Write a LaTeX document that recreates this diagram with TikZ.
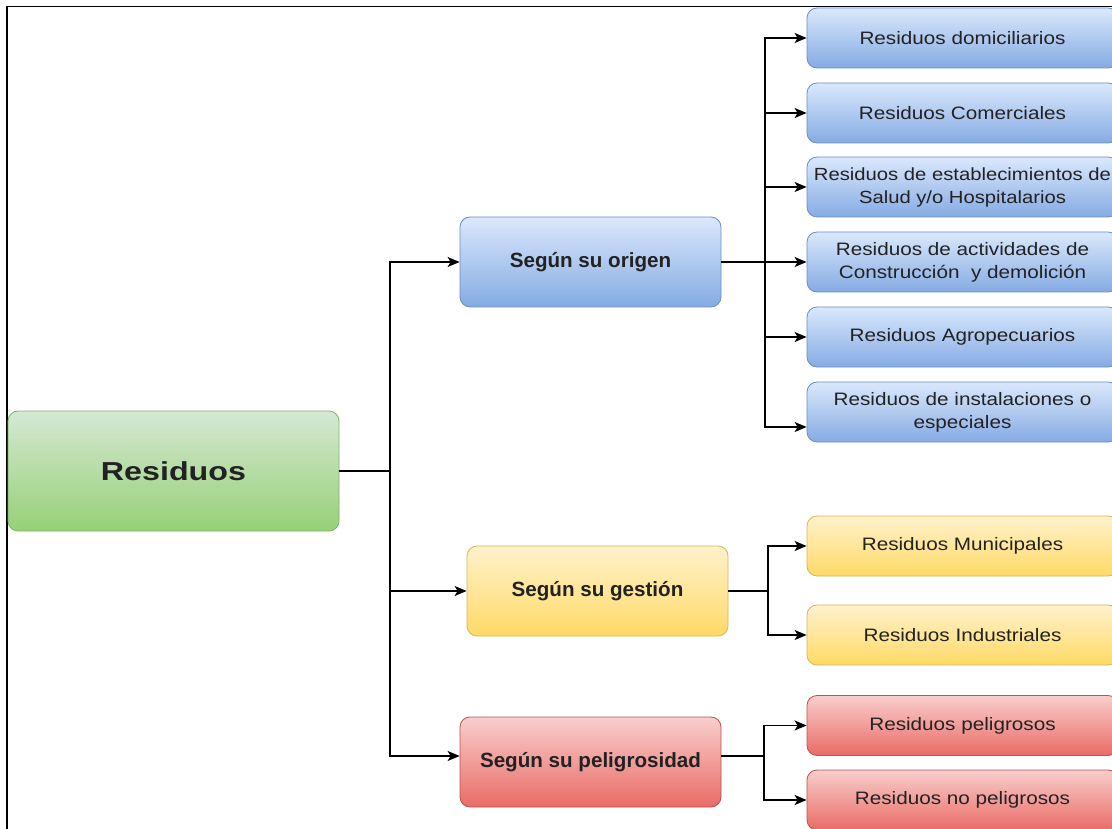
\documentclass[tikz,border=0pt]{standalone}
\usepackage{fontspec}
\setmainfont{Liberation Sans}
\newfontfamily\regf[FakeStretch=1.15]{Liberation Sans}
\newfontfamily\bigf[FakeStretch=1.24]{Liberation Sans}
\usetikzlibrary{arrows.meta}
\definecolor{txt}{HTML}{222222}
\definecolor{bluetop}{HTML}{DAE8FC}\definecolor{bluebot}{HTML}{85ABE3}\definecolor{blueln}{HTML}{6C8EBF}
\definecolor{greentop}{HTML}{D5E8D4}\definecolor{greenbot}{HTML}{97D077}\definecolor{greenln}{HTML}{82B366}
\definecolor{yeltop}{HTML}{FFF2CC}\definecolor{yelbot}{HTML}{FFD966}\definecolor{yelln}{HTML}{D6B656}
\definecolor{redtop}{HTML}{F8CECC}\definecolor{redbot}{HTML}{EA6B66}\definecolor{redln}{HTML}{B85450}
\tikzset{
  box/.style={rounded corners=10pt, line width=0.8pt, text=txt, inner sep=0pt, align=center},
  bluebox/.style={box, draw=blueln, top color=bluetop, bottom color=bluebot},
  greenbox/.style={box, draw=greenln, top color=greentop, bottom color=greenbot},
  yelbox/.style={box, draw=yelln, top color=yeltop, bottom color=yelbot},
  redbox/.style={box, draw=redln, top color=redtop, bottom color=redbot},
  leaf/.style={minimum width=311pt, minimum height=60pt, font=\regf\fontsize{18}{23}\selectfont},
  mid/.style={minimum width=261pt, minimum height=90pt, font=\bfseries\fontsize{20.6}{24}\selectfont},
  conn/.style={line width=1.4pt, black},
  arr/.style={conn, -{Stealth[length=12pt,width=10pt,inset=3pt]}},
}
\begin{document}
\begin{tikzpicture}[x=1pt,y=-1pt]
\useasboundingbox (0,0) rectangle (1112,829);
\clip (0,0) rectangle (1112,829);
% frame
\draw[line width=1.6pt] (7,829) -- (7,6.5) -- (1112,6.5);
% root
\node[greenbox, minimum width=331pt, minimum height=120pt, font=\bigf\bfseries\fontsize{26}{30}\selectfont] (res) at (173.5,471) {Residuos};
% middle
\node[bluebox, mid] (org) at (590.5,262) {Según su origen};
\node[yelbox, mid] (ges) at (597.5,591) {Según su gestión};
\node[redbox, mid] (pel) at (590.5,762) {Según su peligrosidad};
% origin leaves
\node[bluebox, leaf] (o1) at (962.5,38) {Residuos domiciliarios};
\node[bluebox, leaf] (o2) at (962.5,113) {Residuos Comerciales};
\node[bluebox, leaf, font=\regf\fontsize{17.6}{23}\selectfont] (o3) at (962.5,187) {Residuos de establecimientos de\\Salud y/o Hospitalarios};
\node[bluebox, leaf] (o4) at (962.5,262) {Residuos de actividades de\\Construcción~ y demolición};
\node[bluebox, leaf] (o5) at (962.5,337) {Residuos Agropecuarios};
\node[bluebox, leaf] (o6) at (962.5,412) {Residuos de instalaciones o\\especiales};
% gestion leaves
\node[yelbox, leaf] (g1) at (962.5,546) {Residuos Municipales};
\node[yelbox, leaf] (g2) at (962.5,635) {Residuos Industriales};
% peligrosidad leaves
\node[redbox, leaf] (p1) at (962.5,725.5) {Residuos peligrosos};
\node[redbox, leaf] (p2) at (962.5,800) {Residuos no peligrosos};
% connectors
\coordinate (tr) at (390,471);
\draw[conn] (res.east) -- (tr);
\draw[arr] (tr) |- (org.west);
\draw[arr] (tr) |- (ges.west);
\draw[arr] (tr) |- ([yshift=6pt]pel.west);
\coordinate (ob) at (765,262);
\draw[conn] (org.east) -- (ob);
\foreach \n in {o1,o2,o3,o4,o5}{\draw[arr] (ob) |- (\n.west);}
\draw[arr] (ob) |- ([yshift=-15pt]o6.west);
\coordinate (gb) at (768,591);
\draw[conn] (ges.east) -- (gb);
\draw[arr] (gb) |- (g1.west);
\draw[arr] (gb) |- (g2.west);
\coordinate (pb) at (764,756);
\draw[conn] ([yshift=6pt]pel.east) -- (pb);
\draw[arr] (pb) |- (p1.west);
\draw[arr] (pb) |- (p2.west);
\end{tikzpicture}
\end{document}
